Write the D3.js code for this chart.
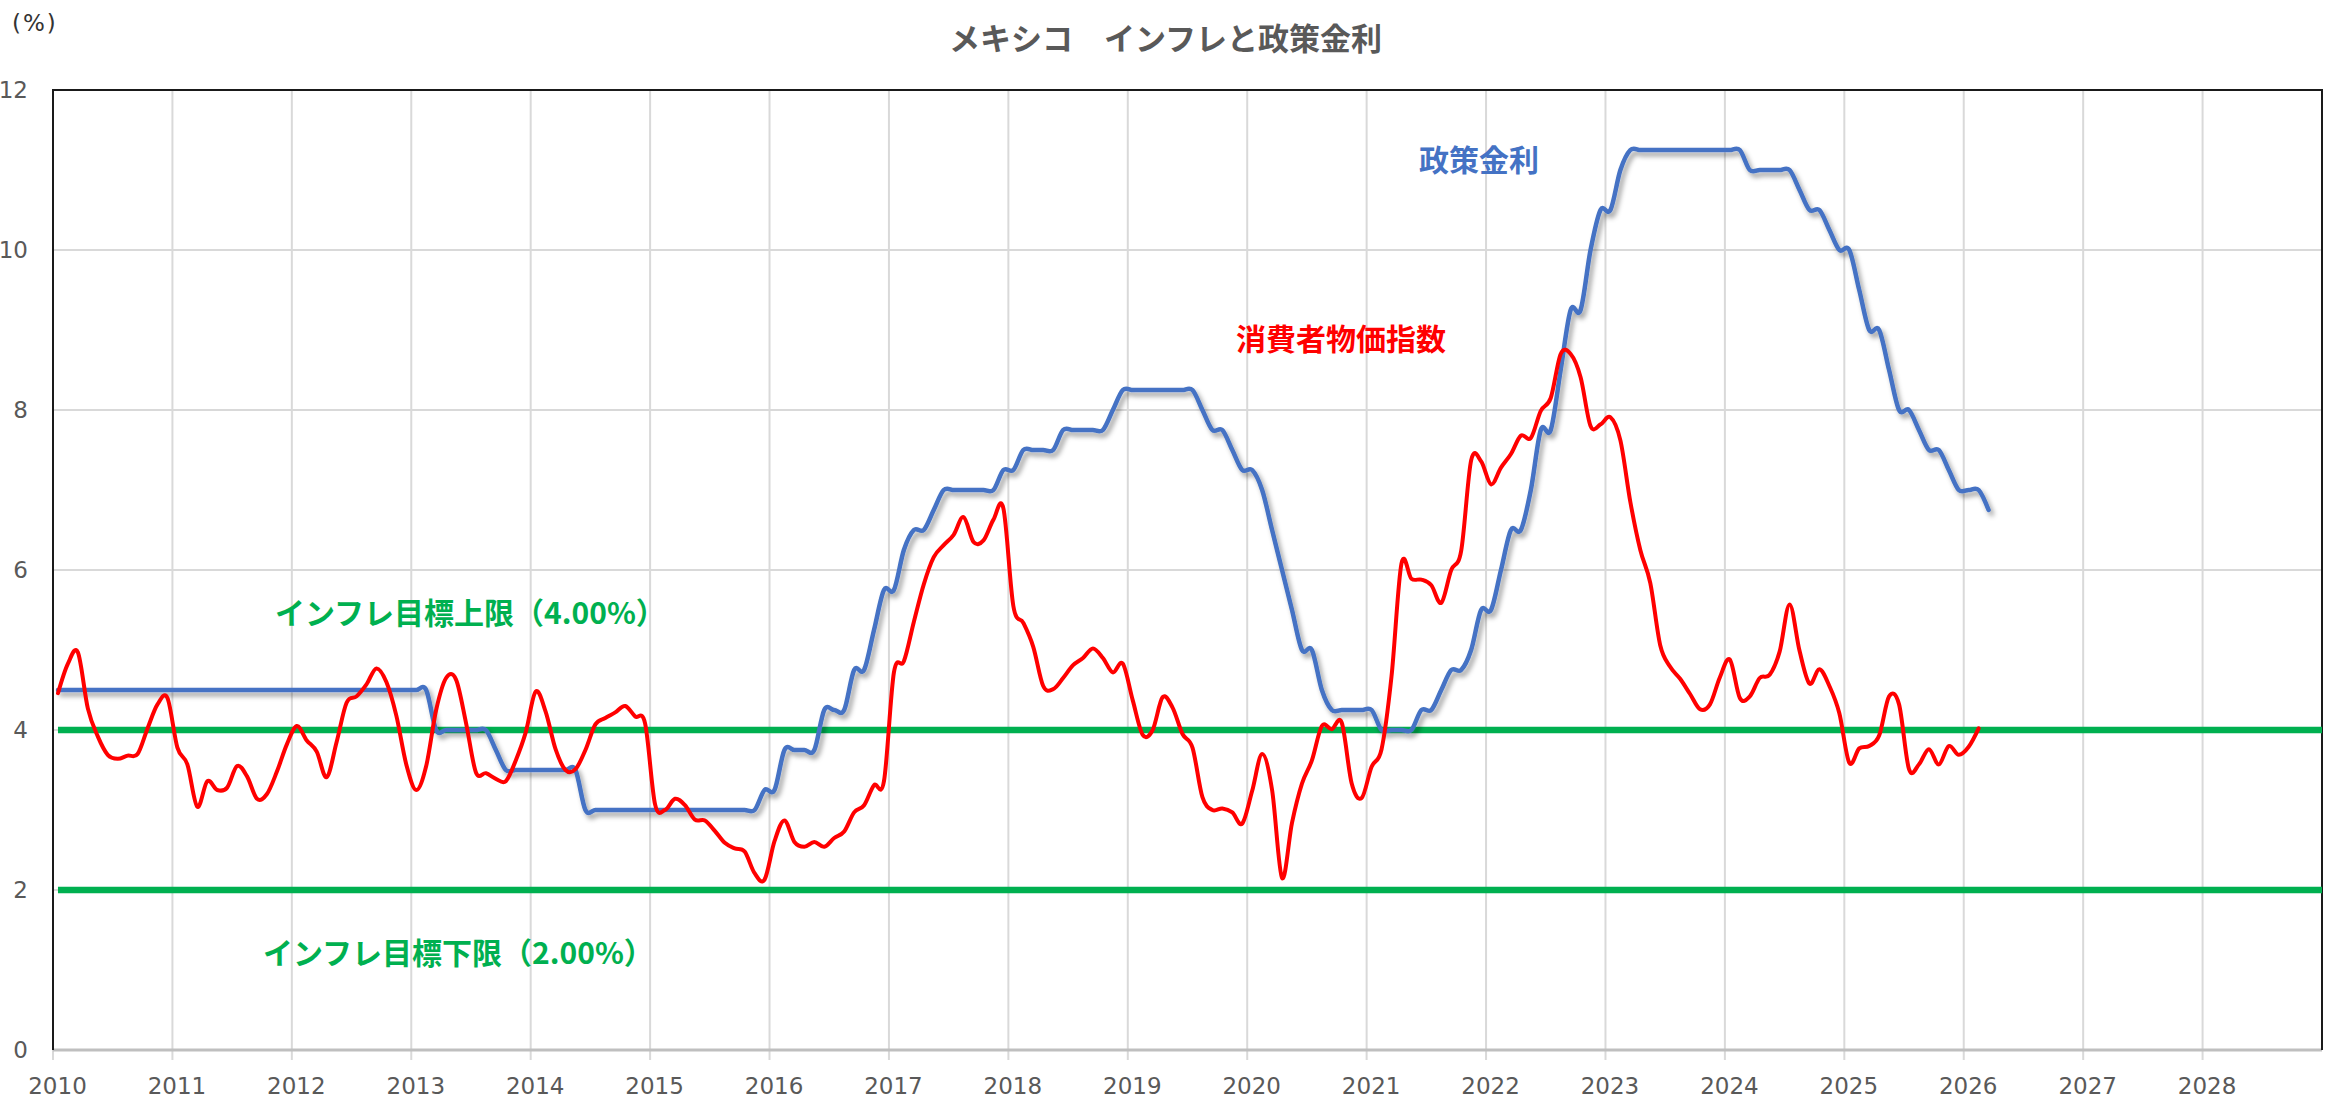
<!DOCTYPE html>
<html lang="ja">
<head>
<meta charset="utf-8">
<title>メキシコ インフレと政策金利</title>
<script src="https://cdn.jsdelivr.net/npm/d3@7"></script>
<style>
  html, body { margin: 0; padding: 0; background: #ffffff; }
  svg { display: block; }
</style>
</head>
<body>
<svg id="chart" width="2331" height="1102"></svg>
<script>
// Monthly series, January 2010 onward (one value per month).
const firstYear = 2010;

// Consumer price index, year-on-year % change
const cpiValues = [
  // 2010
  4.46, 4.83, 4.97, 4.27, 3.92, 3.69, 3.64, 3.68, 3.70, 4.02, 4.32, 4.40,
  // 2011
  3.78, 3.57, 3.04, 3.36, 3.25, 3.28, 3.55, 3.42, 3.14, 3.20, 3.48, 3.82,
  // 2012
  4.05, 3.87, 3.73, 3.41, 3.85, 4.34, 4.42, 4.57, 4.77, 4.60, 4.18, 3.57,
  // 2013
  3.25, 3.55, 4.25, 4.65, 4.63, 4.09, 3.47, 3.46, 3.39, 3.36, 3.62, 3.97,
  // 2014
  4.48, 4.23, 3.76, 3.50, 3.51, 3.75, 4.07, 4.15, 4.22, 4.30, 4.17, 4.08,
  // 2015
  3.07, 3.00, 3.14, 3.06, 2.88, 2.87, 2.74, 2.59, 2.52, 2.48, 2.21, 2.13,
  // 2016
  2.61, 2.87, 2.60, 2.54, 2.60, 2.54, 2.65, 2.73, 2.97, 3.06, 3.31, 3.36,
  // 2017
  4.72, 4.86, 5.35, 5.82, 6.16, 6.31, 6.44, 6.66, 6.35, 6.37, 6.63, 6.77,
  // 2018
  5.55, 5.34, 5.04, 4.55, 4.51, 4.65, 4.81, 4.90, 5.02, 4.90, 4.72, 4.83,
  // 2019
  4.37, 3.94, 4.00, 4.41, 4.28, 3.95, 3.78, 3.16, 3.00, 3.02, 2.97, 2.83,
  // 2020
  3.24, 3.70, 3.25, 2.15, 2.84, 3.33, 3.62, 4.05, 4.01, 4.09, 3.33, 3.15,
  // 2021
  3.54, 3.76, 4.67, 6.08, 5.89, 5.88, 5.81, 5.59, 6.00, 6.24, 7.37, 7.36,
  // 2022
  7.07, 7.28, 7.45, 7.68, 7.65, 7.99, 8.15, 8.70, 8.70, 8.41, 7.80, 7.82,
  // 2023
  7.91, 7.62, 6.85, 6.25, 5.84, 5.06, 4.79, 4.64, 4.45, 4.26, 4.32, 4.66,
  // 2024
  4.88, 4.40, 4.42, 4.65, 4.69, 4.98, 5.57, 4.99, 4.58, 4.76, 4.55, 4.21,
  // 2025
  3.59, 3.77, 3.80, 3.93, 4.42, 4.32, 3.51, 3.57, 3.76, 3.57, 3.80, 3.69,
  // 2026
  3.79, 4.02
];

// Policy rate (month-end), %
const policyRateValues = [
  // 2010
  4.50, 4.50, 4.50, 4.50, 4.50, 4.50, 4.50, 4.50, 4.50, 4.50, 4.50, 4.50,
  // 2011
  4.50, 4.50, 4.50, 4.50, 4.50, 4.50, 4.50, 4.50, 4.50, 4.50, 4.50, 4.50,
  // 2012
  4.50, 4.50, 4.50, 4.50, 4.50, 4.50, 4.50, 4.50, 4.50, 4.50, 4.50, 4.50,
  // 2013
  4.50, 4.50, 4.00, 4.00, 4.00, 4.00, 4.00, 4.00, 3.75, 3.50, 3.50, 3.50,
  // 2014
  3.50, 3.50, 3.50, 3.50, 3.50, 3.00, 3.00, 3.00, 3.00, 3.00, 3.00, 3.00,
  // 2015
  3.00, 3.00, 3.00, 3.00, 3.00, 3.00, 3.00, 3.00, 3.00, 3.00, 3.00, 3.25,
  // 2016
  3.25, 3.75, 3.75, 3.75, 3.75, 4.25, 4.25, 4.25, 4.75, 4.75, 5.25, 5.75,
  // 2017
  5.75, 6.25, 6.50, 6.50, 6.75, 7.00, 7.00, 7.00, 7.00, 7.00, 7.00, 7.25,
  // 2018
  7.25, 7.50, 7.50, 7.50, 7.50, 7.75, 7.75, 7.75, 7.75, 7.75, 8.00, 8.25,
  // 2019
  8.25, 8.25, 8.25, 8.25, 8.25, 8.25, 8.25, 8.00, 7.75, 7.75, 7.50, 7.25,
  // 2020
  7.25, 7.00, 6.50, 6.00, 5.50, 5.00, 5.00, 4.50, 4.25, 4.25, 4.25, 4.25,
  // 2021
  4.25, 4.00, 4.00, 4.00, 4.00, 4.25, 4.25, 4.50, 4.75, 4.75, 5.00, 5.50,
  // 2022
  5.50, 6.00, 6.50, 6.50, 7.00, 7.75, 7.75, 8.50, 9.25, 9.25, 10.00, 10.50,
  // 2023
  10.50, 11.00, 11.25, 11.25, 11.25, 11.25, 11.25, 11.25, 11.25, 11.25, 11.25, 11.25,
  // 2024
  11.25, 11.25, 11.00, 11.00, 11.00, 11.00, 11.00, 10.75, 10.50, 10.50, 10.25, 10.00,
  // 2025
  10.00, 9.50, 9.00, 9.00, 8.50, 8.00, 8.00, 7.75, 7.50, 7.50, 7.25, 7.00,
  // 2026
  7.00, 7.00, 6.75
];

// Inflation target band
const targetUpperValue = 4.0;
const targetLowerValue = 2.0;
const targetSpan = [firstYear + 0.5 / 12, 2029];

// Axis ticks and text
const yearTicks = [2010, 2011, 2012, 2013, 2014, 2015, 2016, 2017, 2018, 2019,
                   2020, 2021, 2022, 2023, 2024, 2025, 2026, 2027, 2028];
const valueTicks = [0, 2, 4, 6, 8, 10, 12];
const titleText = "メキシコ　インフレと政策金利";
const unitText = "(%)";
const policyLabel = "政策金利";
const cpiLabel = "消費者物価指数";
const upperLabel = "インフレ目標上限（4.00%）";
const lowerLabel = "インフレ目標下限（2.00%）";

// ---------------------------------------------------------------------------
const width = 2331, height = 1102;
const plot = { left: 53, right: 2322, top: 90, bottom: 1050 };

const svg = d3.select("#chart");

const x = d3.scaleLinear().domain([2010, 2029]).range([plot.left, plot.right]);
const y = d3.scaleLinear().domain([0, 12]).range([plot.bottom, plot.top]);

// month index -> fractional year at mid-month
const monthPos = i => firstYear + (i + 0.5) / 12;
const toPoints = values => values.map((v, i) => ({ t: monthPos(i), v }));

const cpiSeries = toPoints(cpiValues);
const policySeries = toPoints(policyRateValues);

const defs = svg.append("defs");
const shadow = defs.append("filter")
  .attr("id", "lineShadow")
  .attr("x", "-5%").attr("y", "-5%")
  .attr("width", "110%").attr("height", "110%");
shadow.append("feDropShadow")
  .attr("dx", 3).attr("dy", 4)
  .attr("stdDeviation", 2.4)
  .attr("flood-color", "#000000")
  .attr("flood-opacity", 0.38);

const uiFont = "'DejaVu Sans', Verdana, sans-serif";
const jpFont = "'Noto Sans CJK JP', 'Noto Sans', sans-serif";

// Grid
const grid = svg.append("g").attr("class", "grid");
grid.selectAll("line.vgrid")
  .data(yearTicks.filter(d => d > 2010))
  .join("line")
  .attr("class", "vgrid")
  .attr("x1", d => x(d)).attr("x2", d => x(d))
  .attr("y1", plot.top).attr("y2", plot.bottom + 10)
  .attr("stroke", "#d9d9d9").attr("stroke-width", 2);
grid.append("line")
  .attr("x1", x(2010)).attr("x2", x(2010))
  .attr("y1", plot.bottom).attr("y2", plot.bottom + 10)
  .attr("stroke", "#d9d9d9").attr("stroke-width", 2);
grid.selectAll("line.hgrid")
  .data(valueTicks.filter(d => d > 0 && d < 12))
  .join("line")
  .attr("class", "hgrid")
  .attr("x1", plot.left).attr("x2", plot.right)
  .attr("y1", d => y(d)).attr("y2", d => y(d))
  .attr("stroke", "#d9d9d9").attr("stroke-width", 2);

// Frame
svg.append("line")
  .attr("x1", plot.left).attr("x2", plot.right)
  .attr("y1", plot.bottom).attr("y2", plot.bottom)
  .attr("stroke", "#bfbfbf").attr("stroke-width", 3);
svg.append("path")
  .attr("d", `M${plot.left},${plot.bottom}V${plot.top}H${plot.right}V${plot.bottom}`)
  .attr("fill", "none")
  .attr("stroke", "#1a1a1a").attr("stroke-width", 2);

// Axis labels
const xAxis = d3.axisBottom(x).tickValues(yearTicks).tickFormat(d3.format("d")).tickSize(0).tickPadding(0);
const gx = svg.append("g")
  .attr("transform", `translate(4,${plot.bottom + 36})`)
  .call(xAxis);
gx.select(".domain").remove();
gx.selectAll("text")
  .attr("dy", "0.35em")
  .attr("font-family", uiFont)
  .attr("font-size", 23)
  .attr("fill", "#595959");

const yAxis = d3.axisLeft(y).tickValues(valueTicks).tickFormat(d3.format("d")).tickSize(0).tickPadding(0);
const gy = svg.append("g")
  .attr("transform", `translate(28,0)`)
  .call(yAxis);
gy.select(".domain").remove();
gy.selectAll("text")
  .attr("font-family", uiFont)
  .attr("font-size", 23)
  .attr("fill", "#595959");

// Target band lines
const flatLine = d3.line().x(d => x(d.t)).y(d => y(d.v));
[targetUpperValue, targetLowerValue].forEach(v => {
  svg.append("path")
    .datum(targetSpan.map(t => ({ t, v })))
    .attr("d", flatLine)
    .attr("fill", "none")
    .attr("stroke", "#00b050")
    .attr("stroke-width", 6.5);
});

// Smoothed series
const smooth = d3.line()
  .x(d => x(d.t))
  .y(d => y(d.v))
  .curve(d3.curveCardinal.tension(0));

svg.append("path")
  .datum(policySeries)
  .attr("d", smooth)
  .attr("fill", "none")
  .attr("stroke", "#4472c4")
  .attr("stroke-width", 4.5)
  .attr("stroke-linejoin", "round")
  .attr("stroke-linecap", "round")
  .attr("filter", "url(#lineShadow)");

svg.append("path")
  .datum(cpiSeries)
  .attr("d", smooth)
  .attr("fill", "none")
  .attr("stroke", "#ff0000")
  .attr("stroke-width", 4)
  .attr("stroke-linejoin", "round")
  .attr("stroke-linecap", "round");

// Title and unit
svg.append("text")
  .attr("x", width / 2).attr("y", 36)
  .attr("text-anchor", "middle")
  .attr("dominant-baseline", "central")
  .attr("font-family", jpFont)
  .attr("font-weight", 700)
  .attr("font-size", 31)
  .attr("fill", "#595959")
  .text(titleText);

svg.append("text")
  .attr("x", 12).attr("y", 23)
  .attr("dominant-baseline", "central")
  .attr("font-family", uiFont)
  .attr("font-size", 23)
  .attr("letter-spacing", 2)
  .attr("fill", "#333333")
  .text(unitText);

// Series and band annotations
const annotations = [
  { text: policyLabel, x: 1419, y: 158, color: "#4472c4" },
  { text: cpiLabel, x: 1236, y: 337, color: "#ff0000" },
  { text: upperLabel, x: 275, y: 611, color: "#00b050" },
  { text: lowerLabel, x: 263, y: 951, color: "#00b050" }
];
svg.selectAll("text.note")
  .data(annotations)
  .join("text")
  .attr("class", "note")
  .attr("x", d => d.x).attr("y", d => d.y)
  .attr("dominant-baseline", "central")
  .attr("font-family", jpFont)
  .attr("font-weight", 700)
  .attr("font-size", 30)
  .attr("fill", d => d.color)
  .text(d => d.text);
</script>
</body>
</html>
